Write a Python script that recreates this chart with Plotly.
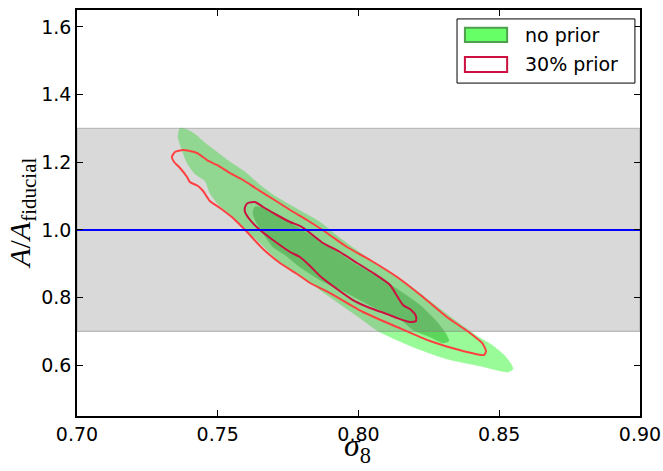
import plotly.graph_objects as go

# ---- data (sigma_8, A/A_fiducial) ----
x_ticks = [0.70, 0.75, 0.80, 0.85, 0.90]
y_ticks = [0.6, 0.8, 1.0, 1.2, 1.4, 1.6]
x_range = [0.70, 0.90]
y_range = [0.45, 1.65]

prior_band = [0.70, 1.30]
fiducial = 1.0

series_labels = ["no prior", "30% prior"]

# "no prior" outer (2-sigma) filled contour
noprior_outer_x = [0.7366, 0.7394, 0.7423, 0.7455, 0.7497, 0.7544, 0.7597, 0.7650, 0.7703, 0.7782,
                   0.7863, 0.7934, 0.8048, 0.8165, 0.8290, 0.8361, 0.8421, 0.8474, 0.8517, 0.8542,
                   0.8549, 0.8531, 0.8432, 0.8314, 0.8194, 0.8069, 0.8005, 0.7934, 0.7863, 0.7792,
                   0.7721, 0.7639, 0.7590, 0.7551, 0.7501, 0.7472, 0.7455, 0.7419, 0.7391, 0.7373,
                   0.7359, 0.7366]
noprior_outer_y = [1.3012, 1.2953, 1.2805, 1.2569, 1.2303, 1.2007, 1.1712, 1.1328, 1.1002, 1.0618,
                   1.0234, 0.9761, 0.9081, 0.8461, 0.7662, 0.7219, 0.6864, 0.6598, 0.6303, 0.6037,
                   0.5889, 0.5800, 0.5978, 0.6185, 0.6539, 0.7012, 0.7396, 0.7810, 0.8224, 0.8667,
                   0.9052, 0.9702, 1.0086, 1.0382, 1.0766, 1.1091, 1.1446, 1.1653, 1.1978, 1.2362,
                   1.2746, 1.3012]

# "no prior" inner (1-sigma) filled contour
noprior_inner_x = [0.7632, 0.7668, 0.7721, 0.7782, 0.7853, 0.7924, 0.7988, 0.8052, 0.8137, 0.8218,
                   0.8279, 0.8311, 0.8321, 0.8300, 0.8254, 0.8194, 0.8147, 0.8052, 0.7959, 0.7863,
                   0.7792, 0.7739, 0.7696, 0.7661, 0.7636, 0.7625, 0.7632]
noprior_inner_y = [1.0677, 1.0648, 1.0411, 1.0086, 0.9731, 0.9347, 0.8993, 0.8697, 0.8254, 0.7781,
                   0.7278, 0.6924, 0.6717, 0.6658, 0.6835, 0.7042, 0.7367, 0.7722, 0.8135, 0.8520,
                   0.8904, 0.9259, 0.9495, 0.9909, 1.0234, 1.0500, 1.0677]

# "30% prior" outer contour line
prior_outer_x = [0.7337, 0.7348, 0.7377, 0.7426, 0.7462, 0.7497, 0.7544, 0.7590, 0.7639, 0.7696,
                 0.7757, 0.7817, 0.7888, 0.7959, 0.8041, 0.8137, 0.8229, 0.8314, 0.8396, 0.8439,
                 0.8453, 0.8446, 0.8371, 0.8254, 0.8137, 0.8016, 0.7899, 0.7828, 0.7782, 0.7721,
                 0.7661, 0.7604, 0.7554, 0.7508, 0.7472, 0.7448, 0.7430, 0.7401, 0.7391, 0.7366,
                 0.7345, 0.7337]
prior_outer_y = [1.2155, 1.2303, 1.2362, 1.2273, 1.2066, 1.1919, 1.1682, 1.1475, 1.1209, 1.0914,
                 1.0589, 1.0293, 0.9909, 0.9495, 0.9111, 0.8608, 0.8017, 0.7426, 0.6953, 0.6658,
                 0.6421, 0.6303, 0.6421, 0.6717, 0.7130, 0.7574, 0.8135, 0.8431, 0.8697, 0.9022,
                 0.9436, 0.9938, 1.0352, 1.0648, 1.0855, 1.1150, 1.1298, 1.1416, 1.1564, 1.1830,
                 1.2007, 1.2155]

# "30% prior" inner contour line
prior_inner_x = [0.7597, 0.7607, 0.7632, 0.7661, 0.7710, 0.7757, 0.7792, 0.7828, 0.7874, 0.7934,
                 0.7995, 0.8052, 0.8112, 0.8137, 0.8158, 0.8187, 0.8204, 0.8204, 0.8183, 0.8137,
                 0.8101, 0.8041, 0.7980, 0.7909, 0.7863, 0.7828, 0.7792, 0.7757, 0.7696, 0.7650,
                 0.7615, 0.7597, 0.7597]
prior_inner_y = [1.0677, 1.0796, 1.0825, 1.0677, 1.0441, 1.0234, 1.0116, 0.9909, 0.9613, 0.9347,
                 0.9022, 0.8727, 0.8372, 0.8047, 0.7781, 0.7633, 0.7456, 0.7308, 0.7278, 0.7396,
                 0.7515, 0.7692, 0.7928, 0.8342, 0.8638, 0.8933, 0.9199, 0.9347, 0.9702, 0.9997,
                 1.0293, 1.0530, 1.0677]

# ---- styles ----
GREEN_OUT = "#98fb98"
GREEN_IN = "#5bd65b"
RED_OUT = "#ff4040"
RED_IN = "#cc1040"
TICK_FONT = dict(family="DejaVu Sans", size=19, color="black")
MATH_FONT = "Liberation Serif"

fig = go.Figure()

fig.add_trace(go.Scatter(x=noprior_outer_x, y=noprior_outer_y, mode="lines", fill="toself",
                         fillcolor=GREEN_OUT, line=dict(color=GREEN_OUT, width=0.5, shape="spline", smoothing=0.6),
                         hoverinfo="skip", showlegend=False))
fig.add_trace(go.Scatter(x=noprior_inner_x, y=noprior_inner_y, mode="lines", fill="toself",
                         fillcolor=GREEN_IN, line=dict(color=GREEN_IN, width=0.5, shape="spline", smoothing=0.6),
                         hoverinfo="skip", showlegend=False))

# prior band (semi-transparent gray, drawn above green fills)
bx = [x_range[0], x_range[1], x_range[1], x_range[0], x_range[0]]
by = [prior_band[0], prior_band[0], prior_band[1], prior_band[1], prior_band[0]]
fig.add_trace(go.Scatter(x=bx, y=by, mode="lines", fill="toself",
                         fillcolor="rgba(128,128,128,0.3)",
                         line=dict(color="rgba(128,128,128,0.45)", width=1.2),
                         hoverinfo="skip", showlegend=False))

fig.add_trace(go.Scatter(x=prior_outer_x, y=prior_outer_y, mode="lines",
                         line=dict(color=RED_OUT, width=2, shape="spline", smoothing=0.6),
                         hoverinfo="skip", showlegend=False))
fig.add_trace(go.Scatter(x=prior_inner_x, y=prior_inner_y, mode="lines",
                         line=dict(color=RED_IN, width=2, shape="spline", smoothing=0.6),
                         hoverinfo="skip", showlegend=False))

fig.add_trace(go.Scatter(x=x_range, y=[fiducial, fiducial], mode="lines",
                         line=dict(color="#0000ff", width=2), hoverinfo="skip", showlegend=False))

axis_common = dict(showgrid=False, zeroline=False, showline=True, linecolor="black", linewidth=1.5,
                   mirror="ticks", ticks="inside", ticklen=6, tickwidth=1, tickcolor="black",
                   tickfont=TICK_FONT, automargin=False)

fig.update_xaxes(range=x_range, tickvals=x_ticks, ticktext=[f"{v:.2f}" for v in x_ticks], **axis_common)
fig.update_yaxes(range=y_range, tickvals=y_ticks, ticktext=[f"{v:.1f}" for v in y_ticks], **axis_common)

# manual legend (matplotlib style)
shapes = [
    dict(type="rect", xref="paper", yref="paper", x0=0.675, x1=0.991, y0=0.820, y1=0.978,
         fillcolor="white", line=dict(color="black", width=1), layer="above"),
    dict(type="rect", xref="paper", yref="paper", x0=0.689, x1=0.764, y0=0.921, y1=0.956,
         fillcolor="#66ff66", line=dict(color="#4f9f4f", width=2), layer="above"),
    dict(type="rect", xref="paper", yref="paper", x0=0.689, x1=0.764, y0=0.847, y1=0.884,
         fillcolor="white", line=dict(color=RED_IN, width=2), layer="above"),
]
annotations = [
    dict(text=series_labels[0], xref="paper", yref="paper", x=0.792, y=0.938, xanchor="left",
         yanchor="middle", showarrow=False, font=dict(family="DejaVu Sans", size=19, color="black")),
    dict(text=series_labels[1], xref="paper", yref="paper", x=0.792, y=0.867, xanchor="left",
         yanchor="middle", showarrow=False, font=dict(family="DejaVu Sans", size=19, color="black")),
    dict(text="<i>σ</i><sub>8</sub>", xref="paper", yref="paper", x=0.499, y=0, yshift=-54,
         xanchor="center", yanchor="bottom", showarrow=False,
         font=dict(family=MATH_FONT, size=32, color="black")),
    dict(text="<i>A</i>/<i>A</i><sub>fiducial</sub>", xref="paper", yref="paper", x=-0.098, y=0.50,
         xanchor="center", yanchor="middle", textangle=-90, showarrow=False,
         font=dict(family=MATH_FONT, size=30, color="black")),
]

fig.update_layout(width=663, height=471, margin=dict(l=77, r=23, t=10, b=55),
                  plot_bgcolor="white", paper_bgcolor="white", showlegend=False,
                  shapes=shapes, annotations=annotations)

fig.write_html("out.html")
